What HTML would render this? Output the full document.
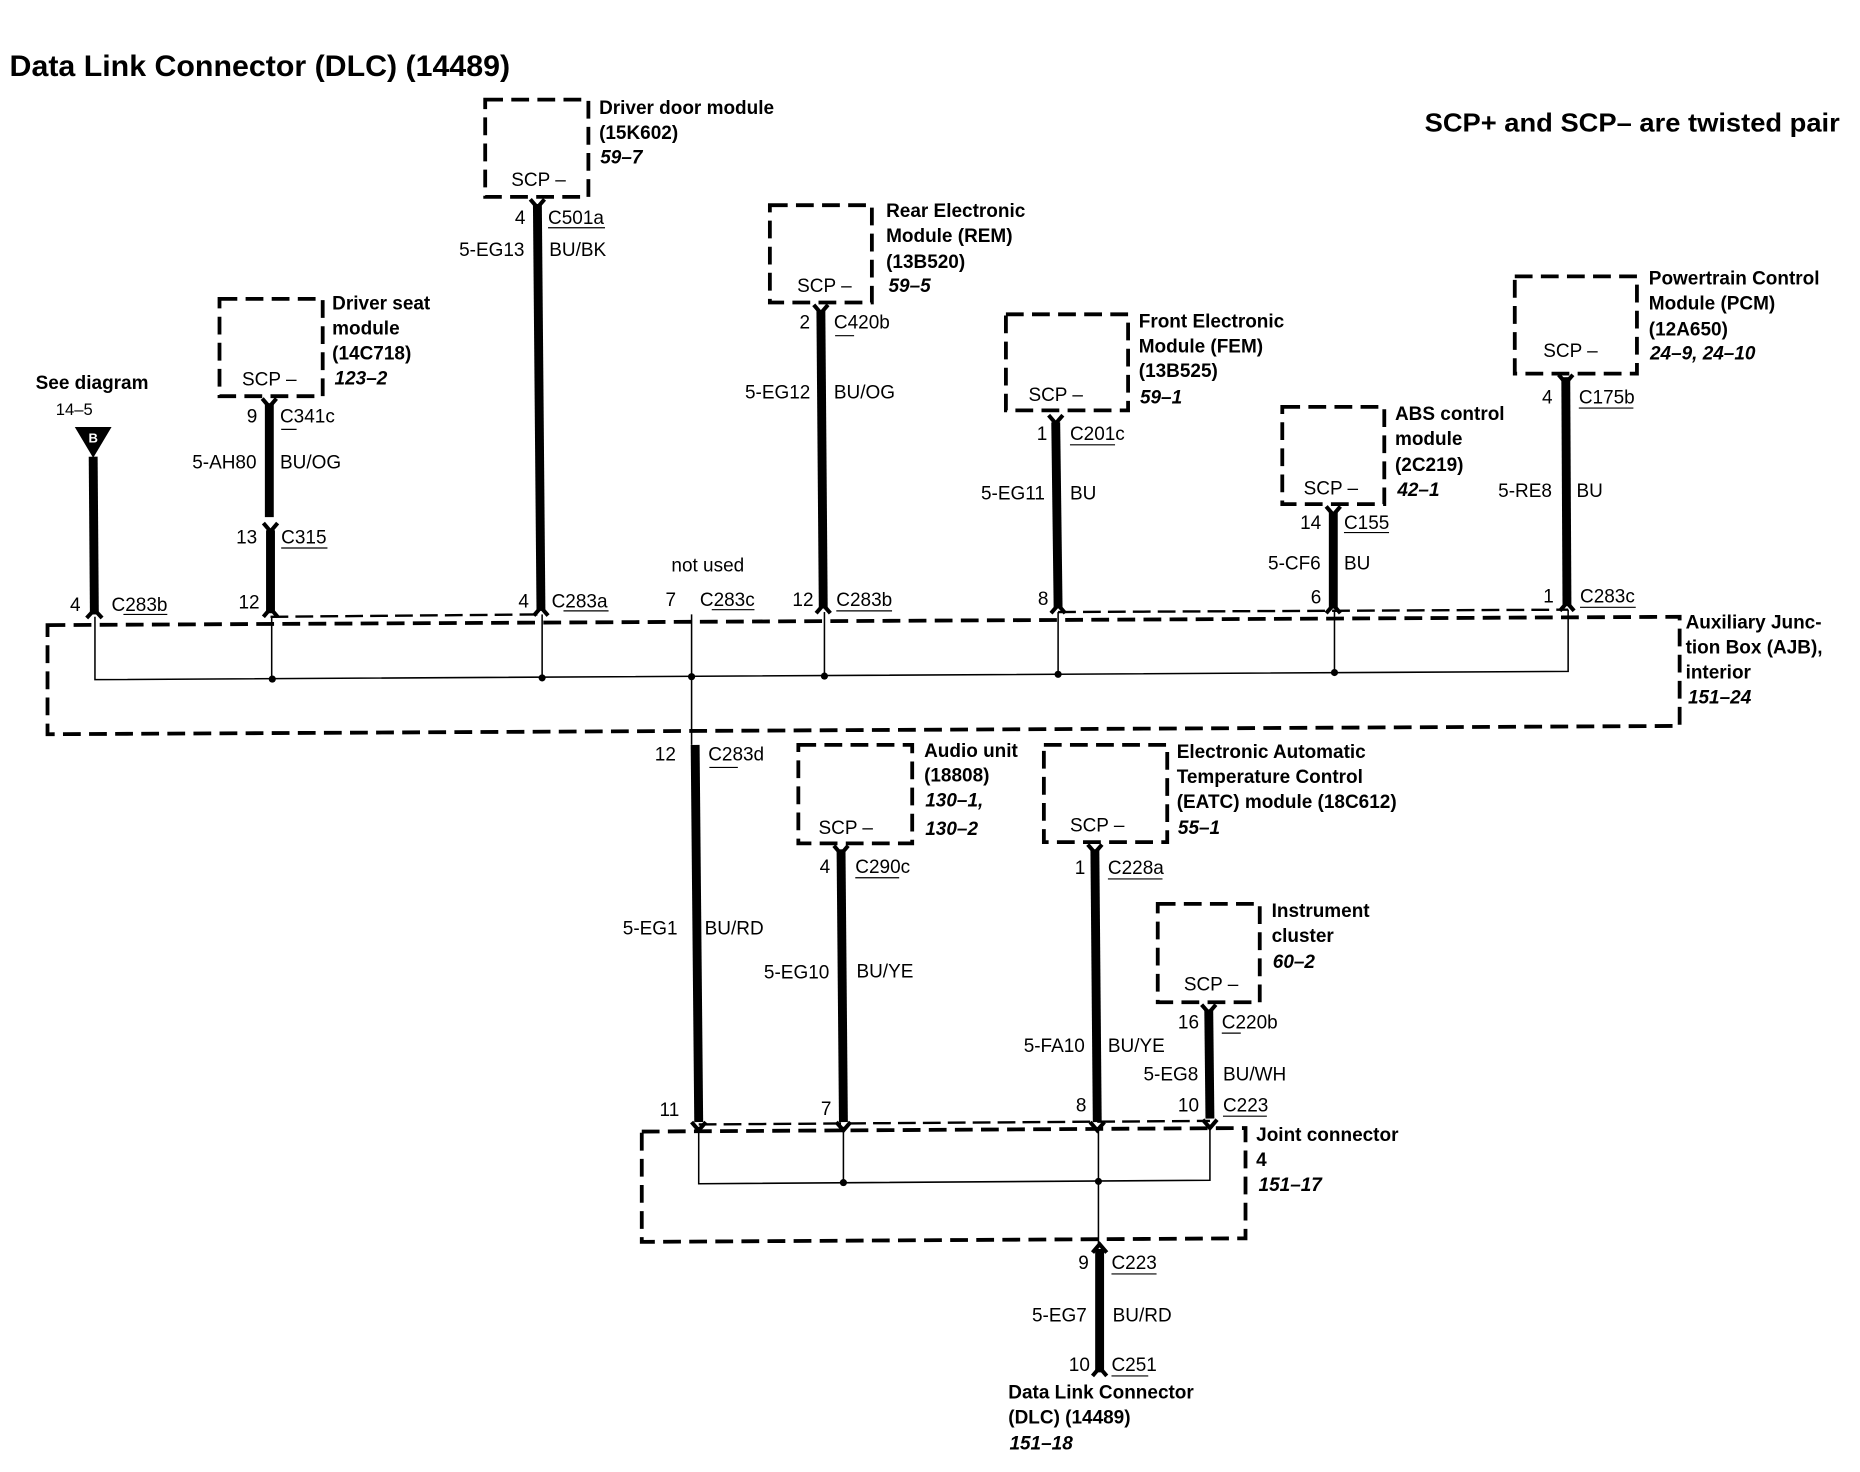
<!DOCTYPE html>
<html><head><meta charset="utf-8"><title>Data Link Connector (DLC) (14489)</title>
<style>
html,body{margin:0;padding:0;background:#fff}
svg{display:block}
text{font-family:"Liberation Sans",sans-serif;fill:#000}
.r{font-size:16px}
.b{font-size:16px;font-weight:bold}
.i{font-size:16px;font-weight:bold;font-style:italic}
.box{fill:none;stroke:#000;stroke-width:3.2;stroke-dasharray:15 7}
.w{fill:none;stroke:#000;stroke-width:7.5}
.a{fill:none;stroke:#000;stroke-width:3.4}
.t{fill:none;stroke:#000;stroke-width:1.3}
.s{fill:none;stroke:#000;stroke-width:2;stroke-dasharray:15 6}
.u{fill:none;stroke:#000;stroke-width:1}
</style></head><body>
<svg width="1860" height="1472" viewBox="0 0 1568 1241" xmlns="http://www.w3.org/2000/svg">
<rect width="1568" height="1241" fill="#fff"/>

<text x="8" y="64" font-size="25" font-weight="bold" textLength="422" lengthAdjust="spacingAndGlyphs">Data Link Connector (DLC) (14489)</text>
<text x="1201" y="111" font-size="22" font-weight="bold" textLength="350" lengthAdjust="spacingAndGlyphs">SCP+ and SCP– are twisted pair</text>

<!-- module boxes -->
<rect class="box" x="409" y="84" width="87" height="82"/>
<rect class="box" x="649" y="173" width="86" height="82"/>
<rect class="box" x="185" y="252" width="87" height="82"/>
<rect class="box" x="848" y="265" width="103" height="81"/>
<rect class="box" x="1277" y="233" width="103" height="82"/>
<rect class="box" x="1081" y="343" width="86" height="82"/>
<rect class="box" x="673" y="628" width="96" height="83"/>
<rect class="box" x="880" y="628" width="104" height="82"/>
<rect class="box" x="976" y="762" width="86" height="83"/>

<!-- junction boxes -->
<path class="box" d="M40 527 L1416 520 L1416 612 L40 619 Z"/>
<path class="box" d="M541 954 L1050 951 L1050 1044 L541 1047 Z"/>

<!-- connector shells -->
<path class="s" d="M228 520 L456 518"/>
<path class="s" d="M892 516 L1322 514"/>
<path class="s" d="M589 948 L1020 945"/>

<!-- thin internal wires -->
<path class="t" d="M80 520 L80 573 L1322 566 L1322 514"/>
<path class="t" d="M229 520 V572"/>
<path class="t" d="M457 518 V571"/>
<path class="t" d="M583 518 V628"/>
<path class="t" d="M695 516 V570"/>
<path class="t" d="M892 516 V568"/>
<path class="t" d="M1125 515 V567"/>
<path class="t" d="M589 950 V998 L1020 995 V948"/>
<path class="t" d="M711 950 V997"/>
<path class="t" d="M926 950 V1050"/>
<g fill="#000">
<circle cx="229.500" cy="572.500" r="3"/>
<circle cx="457" cy="571.500" r="3"/>
<circle cx="583" cy="570.500" r="3"/>
<circle cx="695" cy="570" r="3"/>
<circle cx="892" cy="568.500" r="3"/>
<circle cx="1125" cy="567" r="3"/>
<circle cx="711" cy="997" r="3"/>
<circle cx="926" cy="996" r="3"/>
</g>

<!-- heavy wires -->
<path class="w" d="M78.500 385 L79.500 518"/>
<path class="w" d="M227 340 V436"/>
<path class="w" d="M228 447 V517"/>
<path class="w" d="M453 172 L456 515"/>
<path class="w" d="M692 262 L694 513"/>
<path class="w" d="M890 356 L892 513"/>
<path class="w" d="M1124 432 V513"/>
<path class="w" d="M1320 318 L1321 511"/>
<path class="w" d="M586 628 L589 946"/>
<path class="w" d="M709 716 L711 946"/>
<path class="w" d="M923 716 L925 946"/>
<path class="w" d="M1019 851 L1020 943"/>
<path class="w" d="M927 1053 V1157"/>

<!-- arrowheads -->
<g class="a">
<path class="a" d="M447 168 L453 175 L459 168"/>
<path class="a" d="M686 257 L692 264 L698 257"/>
<path class="a" d="M221 336 L227 343 L233 336"/>
<path class="a" d="M884 350 L890 357 L896 350"/>
<path class="a" d="M1314 316 L1320 323 L1326 316"/>
<path class="a" d="M1118 427 L1124 434 L1130 427"/>
<path class="a" d="M703 713 L709 720 L715 713"/>
<path class="a" d="M917 712 L923 719 L929 712"/>
<path class="a" d="M1013 847 L1019 854 L1025 847"/>
<path class="a" d="M222 441 L228 448 L234 441"/>
<path class="a" d="M73 521 L79.500 514 L86 521"/>
<path class="a" d="M222 520 L228 513 L234 520"/>
<path class="a" d="M450 519 L456 512 L462 519"/>
<path class="a" d="M688 517 L694 510 L700 517"/>
<path class="a" d="M886 517 L892 510 L898 517"/>
<path class="a" d="M1118 517 L1124 510 L1130 517"/>
<path class="a" d="M1315 515 L1321 508 L1327 515"/>
<path class="a" d="M583 946 L589 953 L595 946"/>
<path class="a" d="M705 946 L711 953 L717 946"/>
<path class="a" d="M919 946 L925 953 L931 946"/>
<path class="a" d="M1014 944 L1020 951 L1026 944"/>
<path class="a" d="M921 1056 L927 1049 L933 1056"/>
<path class="a" d="M921 1160 L927 1153 L933 1160"/>
</g>

<!-- off-page triangle -->
<path d="M63 360 H94 L78.500 386 Z" fill="#000"/>
<text x="78.500" y="373" font-size="11" font-weight="bold" text-anchor="middle" style="fill:#fff">B</text>

<!-- SCP labels -->
<g class="r">
<text x="431" y="157">SCP –</text>
<text x="672" y="246">SCP –</text>
<text x="204" y="325">SCP –</text>
<text x="867" y="338">SCP –</text>
<text x="1301" y="301">SCP –</text>
<text x="1099" y="417">SCP –</text>
<text x="690" y="703">SCP –</text>
<text x="902" y="701">SCP –</text>
<text x="998" y="835">SCP –</text>
</g>

<!-- component names -->
<g class="b">
<text x="505" y="96">Driver door module</text><text x="505" y="117">(15K602)</text>
<text x="747" y="183">Rear Electronic</text><text x="747" y="204">Module (REM)</text><text x="747" y="226">(13B520)</text>
<text x="280" y="261">Driver seat</text><text x="280" y="282">module</text><text x="280" y="303">(14C718)</text>
<text x="960" y="276">Front Electronic</text><text x="960" y="297">Module (FEM)</text><text x="960" y="318">(13B525)</text>
<text x="1390" y="240">Powertrain Control</text><text x="1390" y="261">Module (PCM)</text><text x="1390" y="283">(12A650)</text>
<text x="1176" y="354">ABS control</text><text x="1176" y="375">module</text><text x="1176" y="397">(2C219)</text>
<text x="1421" y="530">Auxiliary Junc-</text><text x="1421" y="551">tion Box (AJB),</text><text x="1421" y="572">interior</text>
<text x="779" y="638">Audio unit</text><text x="779" y="659">(18808)</text>
<text x="992" y="639">Electronic Automatic</text><text x="992" y="660">Temperature Control</text><text x="992" y="681">(EATC) module (18C612)</text>
<text x="1072" y="773">Instrument</text><text x="1072" y="794">cluster</text>
<text x="1059" y="962">Joint connector</text><text x="1059" y="983">4</text>
<text x="850" y="1179">Data Link Connector</text><text x="850" y="1200">(DLC) (14489)</text>
<text x="30" y="328">See diagram</text>
</g>
<g class="i">
<text x="506" y="138">59–7</text>
<text x="749" y="246">59–5</text>
<text x="282" y="324">123–2</text>
<text x="961" y="340">59–1</text>
<text x="1391" y="303">24–9, 24–10</text>
<text x="1178" y="418">42–1</text>
<text x="1423" y="593">151–24</text>
<text x="780" y="680">130–1,</text><text x="780" y="704">130–2</text>
<text x="993" y="703">55–1</text>
<text x="1073" y="816">60–2</text>
<text x="1061" y="1004">151–17</text>
<text x="851" y="1222">151–18</text>
</g>

<!-- pin, connector and circuit labels -->
<g class="r">
<text x="47" y="350" style="font-size:14px">14–5</text>
<text x="434" y="189">4</text><text x="462" y="189">C501a</text>
<text x="387" y="216">5-EG13</text><text x="463" y="216">BU/BK</text>
<text x="674" y="277">2</text><text x="703" y="277">C420b</text>
<text x="628" y="336">5-EG12</text><text x="703" y="336">BU/OG</text>
<text x="208" y="356">9</text><text x="236" y="356">C341c</text>
<text x="162" y="395">5-AH80</text><text x="236" y="395">BU/OG</text>
<text x="199" y="458">13</text><text x="237" y="458">C315</text>
<text x="59" y="515">4</text><text x="94" y="515">C283b</text>
<text x="201" y="513">12</text>
<text x="437" y="512">4</text><text x="465" y="512">C283a</text>
<text x="566" y="482">not used</text>
<text x="561" y="511">7</text><text x="590" y="511">C283c</text>
<text x="668" y="511">12</text><text x="705" y="511">C283b</text>
<text x="875" y="510">8</text>
<text x="1105" y="509">6</text>
<text x="1301" y="508">1</text><text x="1332" y="508">C283c</text>
<text x="874" y="371">1</text><text x="902" y="371">C201c</text>
<text x="827" y="421">5-EG11</text><text x="902" y="421">BU</text>
<text x="1096" y="446">14</text><text x="1133" y="446">C155</text>
<text x="1069" y="480">5-CF6</text><text x="1133" y="480">BU</text>
<text x="1300" y="340">4</text><text x="1331" y="340">C175b</text>
<text x="1263" y="419">5-RE8</text><text x="1329" y="419">BU</text>
<text x="552" y="641">12</text><text x="597" y="641">C283d</text>
<text x="525" y="788">5-EG1</text><text x="594" y="788">BU/RD</text>
<text x="691" y="736">4</text><text x="721" y="736">C290c</text>
<text x="644" y="825">5-EG10</text><text x="722" y="824">BU/YE</text>
<text x="906" y="737">1</text><text x="934" y="737">C228a</text>
<text x="863" y="887">5-FA10</text><text x="934" y="887">BU/YE</text>
<text x="993" y="867">16</text><text x="1030" y="867">C220b</text>
<text x="964" y="911">5-EG8</text><text x="1031" y="911">BU/WH</text>
<text x="993" y="937">10</text><text x="1031" y="937">C223</text>
<text x="556" y="941">11</text>
<text x="692" y="940">7</text>
<text x="907" y="937">8</text>
<text x="909" y="1070">9</text><text x="937" y="1070">C223</text>
<text x="870" y="1114">5-EG7</text><text x="938" y="1114">BU/RD</text>
<text x="901" y="1156">10</text><text x="937" y="1156">C251</text>
</g>

<!-- connector underlines -->
<path class="u" d="M462 192H510M1331 344H1377M237 462H276M104 518H141M475 515H513M600 514H636M705 515H752M1332 512H1379M1133 449H1171M902 375H940M598 647H622M721 740H758M934 741H980M1030 871H1046M1031 941H1068M937 1074H975M937 1160H968M704 283H720M237 362H250"/>
</svg>
</body></html>
